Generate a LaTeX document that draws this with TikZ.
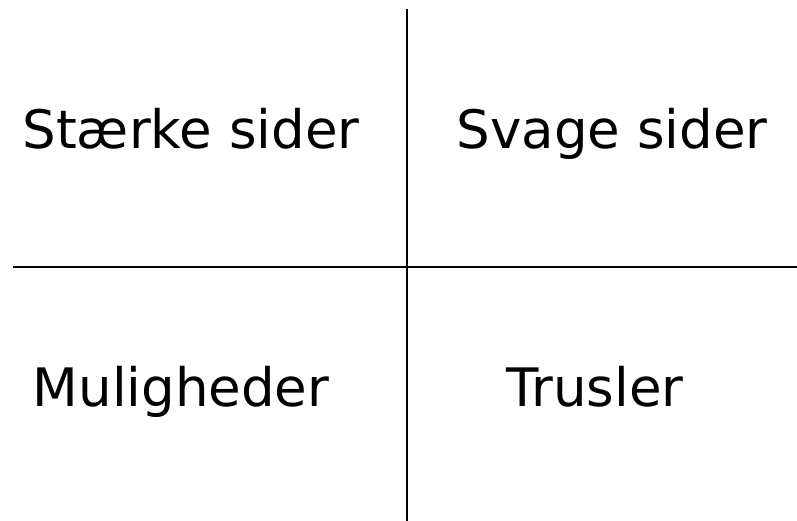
\documentclass[tikz,border=0pt]{standalone}
\usepackage{fontspec}
\setmainfont{DejaVu Sans}
\usetikzlibrary{positioning}
\tikzset{
  quad/.style={anchor=base,inner sep=0pt,font=\fontsize{53}{64}\selectfont},
  cross/.style={draw=black,line width=2pt}
}
\begin{document}
\begin{tikzpicture}[x=1pt,y=-1pt]
  \useasboundingbox (0,0) rectangle (797,521);
  % axes of the cross
  \coordinate (top) at (407,9);
  \coordinate (bottom) at (407,521);
  \coordinate (left) at (13,267);
  \coordinate (right) at (797,267);
  \draw[cross] (top) -- (bottom);
  \draw[cross] (left) -- (right);
  % the four fields
  \node[quad] (strong) at (191,149) {Stærke sider};
  \node[quad] (weak) at (612,149) {Svage sider};
  \node[quad] (chance) at (181,406) {Muligheder};
  \node[quad] (threat) at (595,406) {Trusler};
\end{tikzpicture}
\end{document}
